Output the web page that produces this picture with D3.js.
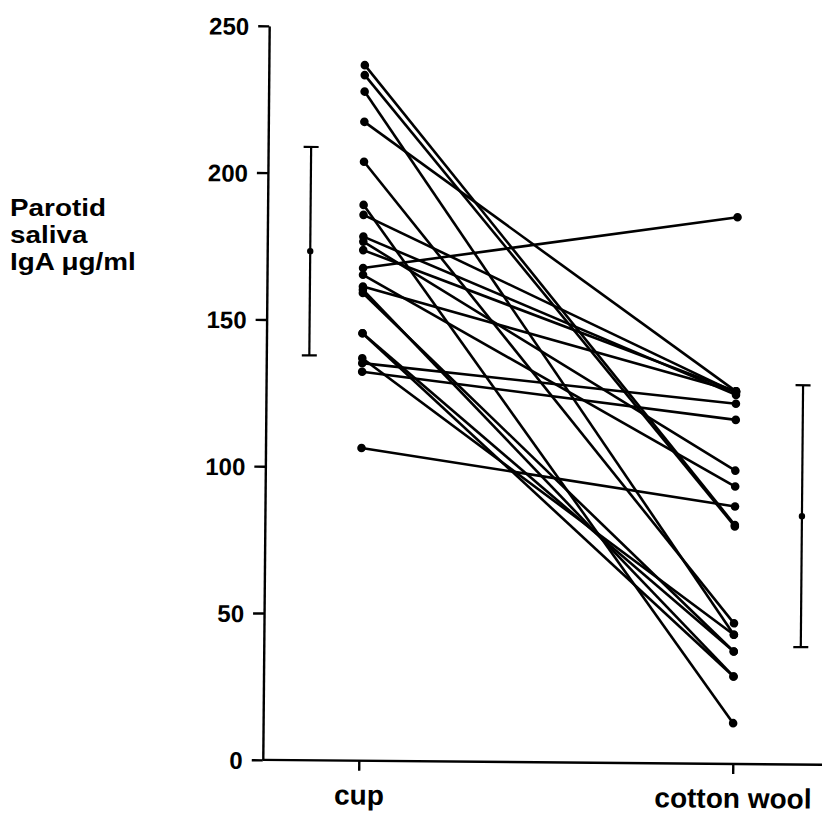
<!DOCTYPE html>
<html><head><meta charset="utf-8">
<script src="https://cdn.jsdelivr.net/npm/d3@7"></script>
<style>body{margin:0;background:#fff}</style>
</head><body>
<svg id="chart" width="822" height="816"></svg>
<script>
// ---- data ----
const categories = ["cup", "cotton wool"];
const cupValues    = [236.9, 233.5, 227.9, 217.6, 204.0, 189.3, 185.9, 178.5, 176.8, 173.9, 167.8, 165.5, 161.5, 160.4, 159.3, 145.6, 145.6, 137.1, 135.4, 132.5, 106.5];
const cottonValues = [ 81.4,  80.9,  44.0, 126.9,  47.9,  13.9, 126.4, 125.7,  99.9, 126.9, 186.2,  94.5, 126.9,  29.8,  38.3,  38.3,  29.8,  44.0, 122.7, 117.2,  87.7];
const groupMeans = [173.4, 84.6];
const groupSD    = [35.5, 44.6];
const yTicks = [0, 50, 100, 150, 200, 250];
const yTitle = ["Parotid", "saliva", "IgA \u03bcg/ml"];

// ---- drawing ----
const svg = d3.select("#chart");
const font = "'Liberation Sans', Arial, Helvetica, sans-serif";
const g = svg.append("g").attr("transform", "rotate(0.5 511 393)");

const x = d3.scalePoint().domain(categories).range([362, 736]);
const y = d3.scaleLinear().domain([0, 250]).range([762, 28]);
const axisX = 266;

// y axis
const yAxis = g.append("g").attr("transform", `translate(${axisX},0)`)
  .call(d3.axisLeft(y).tickValues(yTicks).tickSize(11).tickSizeOuter(0).tickPadding(9));
yAxis.select(".domain").attr("stroke", "#000").attr("stroke-width", 2.4);
yAxis.selectAll(".tick line").attr("stroke", "#000").attr("stroke-width", 2.4);
yAxis.selectAll(".tick text").attr("font-family", font).attr("font-weight", "bold")
  .attr("font-size", 24).attr("fill", "#000").attr("dy", "0.36em");

// x axis
const xAxis = g.append("g").attr("transform", `translate(0,${y(0)})`)
  .call(d3.axisBottom(x).tickSize(10).tickSizeOuter(0));
xAxis.select(".domain").attr("d", `M${axisX},0H835`).attr("stroke", "#000").attr("stroke-width", 2.4);
xAxis.selectAll(".tick line").attr("stroke", "#000").attr("stroke-width", 2.4);
xAxis.selectAll(".tick text").attr("font-family", font).attr("font-weight", "bold")
  .attr("font-size", 28).attr("fill", "#000").attr("y", 44).attr("dy", null);

// y title
svg.append("g").selectAll("text").data(yTitle).join("text")
  .attr("font-family", font).attr("font-weight", "bold").attr("font-size", 24)
  .attr("transform", (d, i) => `translate(10,${216 + i * 27}) scale(1.16,1)`)
  .text(d => d);

// paired lines
const pairs = cupValues.map((v, i) => ({a: v, b: cottonValues[i]}));
g.append("g").selectAll("line").data(pairs).join("line")
  .attr("x1", x(categories[0])).attr("x2", x(categories[1]))
  .attr("y1", d => y(d.a)).attr("y2", d => y(d.b))
  .attr("stroke", "#000").attr("stroke-width", 2.6);
g.append("g").selectAll("circle").data(cupValues).join("circle")
  .attr("cx", x(categories[0])).attr("cy", d => y(d)).attr("r", 4.3).attr("fill", "#000");
g.append("g").selectAll("circle").data(cottonValues).join("circle")
  .attr("cx", x(categories[1])).attr("cy", d => y(d)).attr("r", 4.3).attr("fill", "#000");

// mean ± SD bars
const barX = [x(categories[0]) - 53, x(categories[1]) + 67];
const bars = g.append("g").selectAll("g").data(groupMeans).join("g");
bars.append("line").attr("x1", (d, i) => barX[i]).attr("x2", (d, i) => barX[i])
  .attr("y1", (d, i) => y(d + groupSD[i])).attr("y2", (d, i) => y(d - groupSD[i]))
  .attr("stroke", "#000").attr("stroke-width", 2.2);
[1, -1].forEach(s => {
  bars.append("line").attr("x1", (d, i) => barX[i] - 7.5).attr("x2", (d, i) => barX[i] + 7.5)
    .attr("y1", (d, i) => y(d + s * groupSD[i])).attr("y2", (d, i) => y(d + s * groupSD[i]))
    .attr("stroke", "#000").attr("stroke-width", 2.2);
});
bars.append("circle").attr("cx", (d, i) => barX[i]).attr("cy", d => y(d)).attr("r", 3.2).attr("fill", "#000");
</script>
</body></html>
